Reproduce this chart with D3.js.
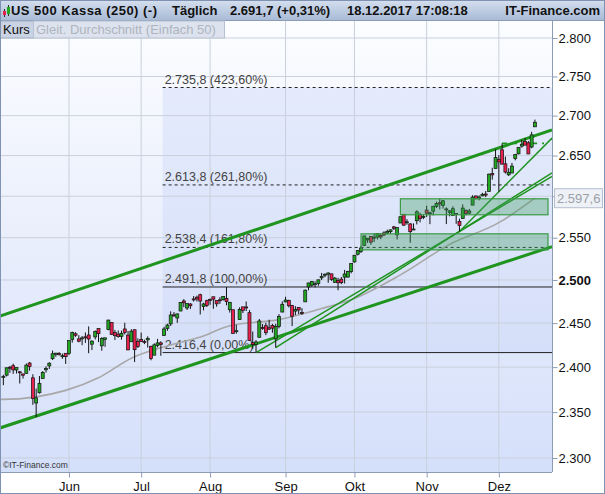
<!DOCTYPE html>
<html><head><meta charset="utf-8">
<script src="https://cdn.jsdelivr.net/npm/d3@7"></script>
<style>body{margin:0;background:#fff}svg{display:block;font-family:"Liberation Sans",Arial,sans-serif}</style>
</head><body><svg id="c" width="605" height="494"></svg>
<script>
// ---------- DATA ----------
const startDate = "2017-05-04", endDate = "2017-12-18";
const open = [
2388.6,2391.0,2399.9,2401.6,2396.8,2394.8,2392.4,2393.0,2404.6,2388.0,2360.0,2371.4,2387.2,2397.0,2401.4,2409.5,2414.5,2415.5,2411.7,2415.6,
2415.6,2431.3,2437.8,2431.9,2432.0,2434.3,2436.4,2425.9,2434.2,2443.8,2424.1,2431.2,2442.6,2450.7,2439.3,2437.4,2434.7,2443.3,2436.3,2428.7,2442.4,2429.2,
2431.4,2429.0,2430.8,2423.4,2413.5,2424.5,2427.4,2435.8,2444.0,2449.2,2459.5,2455.9,2463.9,2475.6,2467.4,2472.0,2477.9,2479.9,2482.8,2469.1,2475.9,
2477.1,2480.4,2476.0,2476.9,2477.1,2478.4,2465.4,2465.4,2441.0,2454.0,2468.7,2468.6,2462.0,2427.6,2425.5,2433.8,2444.9,2447.0,2444.7,2447.4,2431.9,2446.1,2462.7,
2474.4,2476.0,2470.4,2463.8,2468.1,2462.3,2474.5,2491.9,2493.9,2494.6,2495.7,2502.5,2506.3,2506.8,2507.2,2497.3,2499.4,2501.0,2503.3,2503.4,2509.9,
2521.2,2530.3,2533.5,2540.9,2547.4,2551.4,2549.9,2550.6,2552.9,2555.7,2555.6,2557.2,2562.9,2553.4,2567.6,2578.1,2568.7,2566.5,2560.1,2570.3,2577.8,2575.0,
2583.2,2579.5,2581.9,2587.5,2592.1,2588.7,2584.0,2580.2,2576.5,2577.8,2569.5,2572.9,2582.9,2579.5,2589.2,2600.3,2597.0,2600.4,2602.7,2605.9,2627.8,2633.9,
2645.1,2657.2,2639.8,2626.2,2628.4,2646.2,2652.2,2661.7,2667.6,2665.9,2660.6,2685.9];
const high = [
2391.4,2399.3,2401.4,2403.9,2399.7,2395.7,2392.4,2404.1,2405.8,2392.0,2376.0,2390.0,2395.5,2400.9,2405.6,2418.7,2416.0,2417.0,2415.3,2415.6,
2430.1,2440.2,2439.6,2436.2,2435.3,2439.3,2446.2,2430.4,2441.5,2443.8,2433.9,2433.2,2453.8,2450.7,2442.2,2441.6,2441.4,2450.4,2441.0,2443.1,2442.7,2432.7,
2439.2,2431.0,2434.9,2424.3,2426.9,2432.0,2429.3,2445.8,2449.3,2463.5,2462.8,2460.9,2473.8,2477.6,2472.5,2473.1,2481.2,2481.7,2484.0,2473.5,2477.0,
2478.5,2480.4,2476.0,2480.0,2480.9,2491.8,2474.4,2465.4,2448.1,2468.2,2468.7,2474.9,2465.0,2440.3,2430.6,2454.8,2448.9,2450.4,2453.9,2449.1,2449.2,2460.3,2475.0,
2480.4,2477.0,2471.0,2469.6,2468.6,2467.1,2488.9,2496.8,2498.4,2498.4,2500.2,2508.3,2507.8,2508.9,2507.2,2503.5,2502.5,2503.5,2511.8,2510.8,2519.4,
2529.2,2535.1,2540.5,2552.5,2549.4,2551.8,2555.2,2555.2,2555.3,2557.7,2559.5,2559.7,2564.1,2562.4,2575.4,2578.3,2572.2,2567.4,2567.1,2582.9,2580.0,2578.3,
2588.4,2581.1,2588.4,2593.4,2597.0,2595.5,2586.5,2583.0,2587.7,2579.7,2572.8,2590.1,2583.9,2584.6,2601.2,2600.9,2601.0,2604.2,2606.4,2627.7,2634.9,2657.7,
2650.6,2665.2,2648.7,2634.4,2640.9,2651.6,2660.3,2669.7,2671.9,2668.1,2679.6,2695.0];
const low = [
2379.8,2389.6,2393.6,2392.4,2392.8,2381.7,2387.2,2393.0,2396.1,2358.0,2344.5,2370.4,2386.9,2393.9,2397.9,2408.0,2411.7,2413.0,2409.4,2403.6,
2413.5,2427.7,2434.3,2428.1,2424.8,2427.4,2415.7,2419.3,2431.3,2428.3,2418.5,2422.9,2441.8,2436.6,2430.7,2433.3,2431.1,2437.0,2419.4,2428.7,2405.7,2421.6,
2428.7,2426.0,2422.1,2407.7,2413.5,2422.3,2412.8,2435.6,2441.2,2446.7,2457.2,2450.3,2463.9,2468.4,2465.1,2466.3,2474.9,2474.9,2459.9,2464.7,2468.5,
2471.1,2466.5,2468.9,2472.1,2475.9,2470.5,2462.1,2437.8,2437.9,2454.0,2461.6,2463.9,2430.0,2420.7,2416.4,2433.7,2442.4,2436.2,2442.2,2439.0,2422.0,2444.0,2462.7,
2473.9,2468.0,2446.6,2459.2,2460.3,2459.4,2474.5,2488.0,2492.1,2491.4,2493.2,2499.9,2503.2,2496.7,2499.0,2496.5,2488.0,2495.1,2495.9,2502.9,2507.8,
2520.4,2528.9,2531.8,2540.0,2543.8,2541.6,2544.9,2547.9,2548.3,2552.0,2553.9,2554.6,2559.2,2547.9,2567.6,2564.3,2565.6,2544.0,2559.8,2565.9,2568.4,2572.2,
2574.9,2566.2,2576.8,2585.7,2584.1,2585.0,2566.3,2575.6,2576.5,2566.6,2557.5,2572.9,2576.9,2578.2,2589.2,2596.0,2595.0,2600.0,2598.9,2605.4,2620.3,2633.9,
2605.5,2639.0,2627.7,2624.8,2628.4,2644.1,2651.5,2659.8,2662.9,2652.0,2659.1,2685.9];
const close = [
2389.5,2399.3,2399.4,2396.9,2399.6,2394.4,2390.9,2402.3,2400.7,2365.0,2365.7,2381.7,2394.0,2398.4,2404.4,2415.1,2415.8,2414.0,2412.9,2411.8,
2430.1,2439.1,2436.1,2429.3,2433.1,2433.8,2431.8,2429.4,2440.4,2437.9,2432.5,2433.2,2453.5,2437.0,2435.6,2434.5,2438.3,2439.1,2419.4,2440.7,2419.7,2423.4,
2429.0,2428.0,2432.5,2409.8,2425.2,2427.4,2425.5,2443.3,2447.8,2459.3,2459.1,2460.6,2473.8,2473.5,2472.5,2469.9,2477.1,2477.8,2475.4,2472.1,2470.3,
2476.4,2477.6,2472.2,2476.8,2480.9,2474.9,2474.0,2438.2,2441.3,2465.8,2464.6,2468.1,2430.0,2425.6,2428.4,2452.5,2444.0,2439.0,2443.1,2444.2,2446.3,2457.6,2471.7,
2476.6,2470.0,2457.9,2465.5,2465.1,2461.4,2488.1,2496.5,2498.4,2495.6,2500.2,2503.9,2506.7,2508.2,2500.6,2502.2,2496.7,2496.8,2507.0,2510.1,2519.4,
2529.1,2534.6,2537.7,2552.1,2549.3,2544.7,2550.6,2555.2,2550.9,2553.2,2557.6,2559.4,2561.3,2562.1,2575.2,2565.0,2569.1,2557.2,2560.4,2581.1,2572.8,2575.3,
2579.4,2579.9,2587.8,2591.1,2590.6,2594.4,2584.6,2582.3,2584.8,2578.9,2564.6,2585.6,2578.9,2582.1,2599.0,2597.1,2599.0,2602.4,2601.4,2627.0,2626.1,2647.6,
2642.2,2639.4,2629.6,2629.3,2637.0,2651.5,2660.0,2664.1,2662.9,2652.0,2675.8,2691.7];
// Moving average (SMA 50) read at sample dates
const maDates = ["2017-05-04","2017-05-31","2017-06-14","2017-06-28","2017-07-14","2017-07-27","2017-08-09","2017-08-30","2017-09-20","2017-09-29","2017-10-20","2017-11-10","2017-12-01","2017-12-18"];
const maValues = [2364,2374,2388,2410,2425,2434,2447,2454,2469,2477,2506,2542,2568,2597.6];
const yTicks = [2300,2350,2400,2450,2500,2550,2600,2650,2700,2750,2800];
const hiddenTickLabels = [2600]; // covered by the MA value box
const monthNames = ["Jun","Jul","Aug","Sep","Okt","Nov","Dez"];
const fibStart = "2017-07-12";
const fibLevels = [2735.8,2613.8,2538.4,2491.8,2416.4];
const fibPct = ["423,60%","261,80%","161,80%","100,00%","0,00%"];
const fibDashed = [true,true,true,false,false];
// trend lines: [date1, price1, date2, price2, width, extendLeft]
const trendLines = [
 ["2017-05-04",2459.5,"2017-12-18",2674.8,3,true],
 ["2017-05-04",2333.8,"2017-12-18",2532.7,3,true],
 ["2017-08-21",2416.4,"2017-11-15",2557.5,1.5,false],
 ["2017-08-29",2422.0,"2017-11-15",2557.5,1.5,false],
 ["2017-11-15",2557.5,"2017-12-01",2605.5,1.5,false]
];
// zones: [dateFrom, priceLow, priceHigh]
const zones = [["2017-10-20",2577.5,2596.9],["2017-10-04",2535.5,2554.6]];
const resistLevel = 2665.2, resistFrom = "2017-12-04";
const maLast = "2.597,6";

// ---------- SETUP ----------
const parse = d3.timeParse("%Y-%m-%d");
const days = d3.timeDay.range(parse(startDate), d3.timeDay.offset(parse(endDate),1)).filter(d=>d.getDay()%6!==0);
const key = d3.timeFormat("%Y-%m-%d");
const idxOf = s => days.findIndex(d=>key(d)===s);
const data = days.map((d,i)=>({d,i,o:open[i],h:high[i],l:low[i],c:close[i]}));

const W=605,H=494,PR=552,PT=21,PB=472;
const x = d3.scaleLinear().domain([-1.02,167.2]).range([0,PR]);
const y = d3.scaleLog().domain([2300,2800]).range([458,38]);
const loc = d3.formatLocale({decimal:",",thousands:".",grouping:[3],currency:["",""]});
const fmtTick = loc.format(",.0f"), fmt1 = loc.format(",.1f");

const svg = d3.select("#c");
const defs = svg.append("defs");
const g1 = defs.append("linearGradient").attr("id","bg").attr("x1",0).attr("y1",0).attr("x2",0).attr("y2",1);
g1.append("stop").attr("offset",0).attr("stop-color","#fcfdff");
g1.append("stop").attr("offset",0.5).attr("stop-color","#e9eefc");
g1.append("stop").attr("offset",1).attr("stop-color","#d4dffa");
const g2 = defs.append("linearGradient").attr("id","hd").attr("x1",0).attr("y1",0).attr("x2",0).attr("y2",1);
g2.append("stop").attr("offset",0).attr("stop-color","#d5dfee");
g2.append("stop").attr("offset",1).attr("stop-color","#a7b9d6");
defs.append("clipPath").attr("id","clip").append("rect").attr("x",0).attr("y",PT).attr("width",PR).attr("height",PB-PT);

// plot bg
svg.append("rect").attr("x",0).attr("y",PT).attr("width",PR).attr("height",PB-PT).attr("fill","url(#bg)");
const plot = svg.append("g").attr("clip-path","url(#clip)");

// fib box
const fx = x(idxOf(fibStart))-1.5;
plot.append("rect").attr("x",fx).attr("y",y(fibLevels[0])).attr("width",PR-fx)
  .attr("height",y(fibLevels[4])-y(fibLevels[0])).attr("fill","#c3d2f7").attr("opacity",0.35);

// grid
const monthIdx = [];
days.forEach((d,i)=>{ if(i>0 && d.getMonth()!==days[i-1].getMonth()) monthIdx.push(i); });
plot.selectAll(".hg").data(yTicks).join("line").attr("x1",0).attr("x2",PR)
  .attr("y1",d=>y(d)).attr("y2",d=>y(d)).attr("stroke","#c9d0dc").attr("stroke-width",1);
plot.selectAll(".vg").data(monthIdx).join("line").attr("x1",d=>x(d)).attr("x2",d=>x(d))
  .attr("y1",PT).attr("y2",PB).attr("stroke","#c9d0dc").attr("stroke-width",1);

// fib lines and labels
fibLevels.forEach((v,k)=>{
  plot.append("line").attr("x1",fx).attr("x2",PR).attr("y1",y(v)).attr("y2",y(v))
    .attr("stroke","#222").attr("stroke-width",1).attr("stroke-dasharray",fibDashed[k]?"3,3":null);
  plot.append("text").attr("x",fx+2).attr("y",y(v)-4).attr("font-size",12.5).attr("fill","#444")
    .text(fmt1(v)+" ("+fibPct[k]+")");
});

// MA line
const maPts = maDates.map((s,k)=>[x(idxOf(s)),y(maValues[k])]);
plot.append("path").attr("d",d3.line().curve(d3.curveMonotoneX)([[0,y(maValues[0])],...maPts]))
  .attr("fill","none").attr("stroke","#a8a8a8").attr("stroke-width",1.6);

// trend lines (extended in pixel space)
trendLines.forEach(t=>{
  const x1=x(idxOf(t[0])),y1=y(t[1]),x2=x(idxOf(t[2])),y2=y(t[3]);
  const s=(y2-y1)/(x2-x1);
  const xa = t[5]?0:x1, xb=PR;
  plot.append("line").attr("x1",xa).attr("y1",y1+s*(xa-x1)).attr("x2",xb).attr("y2",y1+s*(xb-x1))
    .attr("stroke","#1f941f").attr("stroke-width",t[4]);
});
plot.append("line").attr("x1",x(idxOf(resistFrom))).attr("x2",PR-8).attr("y1",y(resistLevel)).attr("y2",y(resistLevel))
  .attr("stroke","#1f941f").attr("stroke-width",1.6).attr("stroke-dasharray","5,5");

// candles
const cg = plot.append("g");
cg.selectAll("line").data(data).join("line").attr("x1",d=>x(d.i)).attr("x2",d=>x(d.i))
  .attr("y1",d=>y(d.h)).attr("y2",d=>y(d.l)).attr("stroke","#111").attr("stroke-width",1);
cg.selectAll("rect").data(data).join("rect").attr("x",d=>x(d.i)-1.5).attr("width",3)
  .attr("y",d=>y(Math.max(d.o,d.c))).attr("height",d=>Math.max(1,Math.abs(y(d.o)-y(d.c))))
  .attr("fill",d=>d.c>=d.o?"#22a722":"#e8204e").attr("stroke","#111").attr("stroke-width",0.7);

// zones
zones.forEach(z=>{
  const zx=x(idxOf(z[0]));
  plot.append("rect").attr("x",zx).attr("y",y(z[2])).attr("width",PR-4-zx).attr("height",y(z[1])-y(z[2]))
    .attr("fill","#3d9a5c").attr("fill-opacity",0.35).attr("stroke","#3a9a45").attr("stroke-width",1.2);
});

// copyright
svg.append("text").attr("x",3).attr("y",468).attr("font-size",8.5).attr("fill","#333").text("©IT-Finance.com");

// axes frames
svg.append("line").attr("x1",PR+0.5).attr("x2",PR+0.5).attr("y1",PT).attr("y2",PB).attr("stroke","#8c9cb6");
svg.append("line").attr("x1",0).attr("x2",PR).attr("y1",PB+0.5).attr("y2",PB+0.5).attr("stroke","#8c9cb6");

// right axis
const ra = svg.append("g").attr("transform",`translate(${PR+0.5},0)`)
  .call(d3.axisRight(y).tickValues(yTicks).tickSize(5).tickFormat(d=>hiddenTickLabels.includes(d)?"":fmtTick(d)));
ra.select(".domain").remove();
ra.selectAll("line").attr("stroke","#8c9cb6");
ra.selectAll("text").attr("font-size",13).attr("fill","#111").attr("x",6).attr("font-family","Liberation Sans, Arial")
  .attr("font-weight",d=>d===2500?"bold":"normal");

// MA label box
const my = y(maValues[maValues.length-1]);
svg.append("rect").attr("x",554.5).attr("y",my-9.5).attr("width",48).attr("height",19)
  .attr("fill","#eef1f6").attr("stroke","#b5bfcf");
svg.append("text").attr("x",557).attr("y",my+4.5).attr("font-size",13).attr("fill","#9aa0a8").text(maLast);

// bottom axis
const ba = svg.append("g").attr("transform",`translate(0,${PB+0.5})`)
  .call(d3.axisBottom(x).tickValues(monthIdx).tickSize(5).tickFormat((d,k)=>monthNames[k]));
ba.select(".domain").remove();
ba.selectAll("line").attr("stroke","#8c9cb6");
ba.selectAll("text").attr("font-size",13).attr("fill","#111").attr("y",9).attr("font-family","Liberation Sans, Arial");

// header
svg.append("rect").attr("x",0).attr("y",0).attr("width",W).attr("height",PT).attr("fill","url(#hd)");
svg.append("line").attr("x1",0).attr("x2",W).attr("y1",PT-0.5).attr("y2",PT-0.5).attr("stroke","#8c9cb6");
svg.append("line").attr("x1",4.5).attr("x2",4.5).attr("y1",9).attr("y2",17).attr("stroke","#333");
svg.append("rect").attr("x",3).attr("y",11).attr("width",3).attr("height",4).attr("fill","#e8204e");
svg.append("line").attr("x1",8.5).attr("x2",8.5).attr("y1",5).attr("y2",16).attr("stroke","#333");
svg.append("rect").attr("x",7).attr("y",7).attr("width",3).attr("height",7).attr("fill","#22a722");
const hdr = [["US 500 Kassa (250) (-)",11,"start",146],["Täglich",172,"start",0],["2.691,7 (+0,31%)",230,"start",0],["18.12.2017 17:08:18",347,"start",0],["IT-Finance.com",600,"end",0]];
svg.selectAll(".hdr").data(hdr).join("text").attr("x",d=>d[1]).attr("y",15).attr("text-anchor",d=>d[2])
  .attr("font-size",13).attr("font-weight","bold").attr("fill","#111")
  .each(function(d){ if(d[3]) d3.select(this).attr("textLength",d[3]).attr("lengthAdjust","spacing"); })
  .text(d=>d[0]);

// legend
svg.append("rect").attr("x",0.5).attr("y",PT).attr("width",33).attr("height",17).attr("fill","#c9d3e3").attr("stroke","#9fadc4");
svg.append("text").attr("x",3).attr("y",PT+13).attr("font-size",13).attr("fill","#111").text("Kurs");
svg.append("rect").attr("x",33.5).attr("y",PT).attr("width",191).attr("height",17).attr("fill","#dde3ee").attr("stroke","#b6c1d3");
svg.append("text").attr("x",36).attr("y",PT+13).attr("font-size",13).attr("fill","#aeb4be").text("Gleit. Durchschnitt (Einfach 50)");

// outer border
svg.append("rect").attr("x",0.5).attr("y",0.5).attr("width",W-1).attr("height",H-1).attr("fill","none").attr("stroke","#7f92b2");
</script></body></html>
